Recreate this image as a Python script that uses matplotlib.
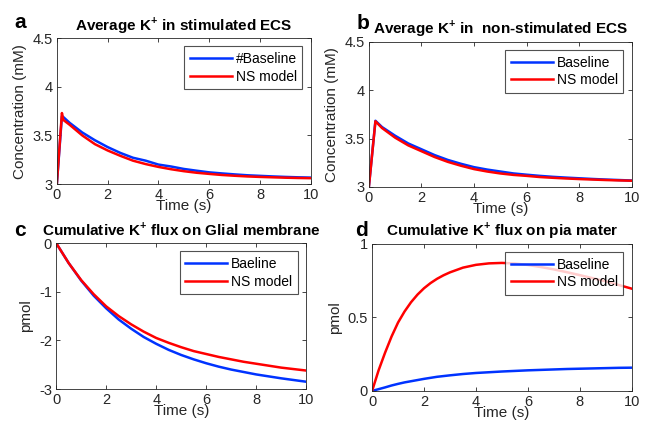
import matplotlib
matplotlib.use("Agg")
import matplotlib.pyplot as plt

plt.rcParams['font.family'] = ['Liberation Sans', 'DejaVu Sans']
plt.rcParams['mathtext.fontset'] = 'custom'
plt.rcParams['mathtext.rm'] = 'Liberation Sans'
plt.rcParams['mathtext.bf'] = 'Liberation Sans:bold'

# Data
t_a = [0, 0.2, 0.25, 0.5, 1, 1.5, 2, 2.5, 3, 3.5, 4, 4.5, 5, 5.5, 6, 6.5, 7, 7.5, 8, 8.5, 9, 9.5, 10]
a_base = [3.00, 3.70, 3.69, 3.63, 3.53, 3.45, 3.38, 3.32, 3.27, 3.24, 3.20, 3.18, 3.155, 3.137,
          3.12, 3.109, 3.099, 3.09, 3.084, 3.078, 3.073, 3.069, 3.066]
a_ns = [3.00, 3.73, 3.66, 3.61, 3.50, 3.41, 3.345, 3.29, 3.24, 3.205, 3.176, 3.152, 3.132, 3.116,
        3.104, 3.093, 3.085, 3.078, 3.073, 3.069, 3.065, 3.062, 3.060]

t_b = [0, 0.25, 0.5, 1, 1.5, 2, 2.5, 3, 3.5, 4, 4.5, 5, 5.5, 6, 6.5, 7, 7.5, 8, 8.5, 9, 9.5, 10]
b_base = [3.00, 3.685, 3.62, 3.53, 3.45, 3.39, 3.33, 3.28, 3.24, 3.205, 3.18, 3.16, 3.14, 3.127,
          3.115, 3.105, 3.097, 3.09, 3.083, 3.077, 3.072, 3.067]
b_ns = [3.00, 3.68, 3.61, 3.51, 3.43, 3.37, 3.31, 3.26, 3.22, 3.185, 3.16, 3.14, 3.125, 3.115,
        3.103, 3.095, 3.088, 3.082, 3.077, 3.072, 3.068, 3.065]

t_c = [0, 0.5, 1, 1.5, 2, 2.5, 3, 3.5, 4, 4.5, 5, 5.5, 6, 6.5, 7, 7.5, 8, 8.5, 9, 9.5, 10]
c_base = [0, -0.41, -0.77, -1.08, -1.34, -1.57, -1.76, -1.93, -2.07, -2.195, -2.30, -2.39,
          -2.47, -2.54, -2.60, -2.65, -2.70, -2.74, -2.78, -2.815, -2.85]
c_ns = [0, -0.41, -0.76, -1.05, -1.30, -1.50, -1.67, -1.82, -1.95, -2.05, -2.14, -2.22,
        -2.28, -2.34, -2.39, -2.44, -2.48, -2.52, -2.56, -2.59, -2.62]

t_d = [0, 0.25, 0.5, 0.75, 1, 1.25, 1.5, 1.75, 2, 2.25, 2.5, 2.75, 3, 3.5, 4, 4.5, 5, 5.5,
       6, 6.5, 7, 7.5, 8, 8.5, 9, 9.5, 10]
d_base = [0, 0.012, 0.024, 0.037, 0.048, 0.058, 0.066, 0.074, 0.082, 0.089, 0.096, 0.101,
          0.106, 0.115, 0.122, 0.127, 0.132, 0.136, 0.14, 0.143, 0.146, 0.149, 0.151, 0.153,
          0.155, 0.157, 0.158]
d_ns = [0, 0.14, 0.26, 0.37, 0.465, 0.54, 0.603, 0.655, 0.698, 0.733, 0.762, 0.786, 0.806,
        0.838, 0.857, 0.867, 0.87, 0.866, 0.856, 0.842, 0.826, 0.807, 0.787, 0.766, 0.745,
        0.72, 0.695]

panels = [
    dict(pos=[0.088, 0.566, 0.393, 0.344], t=t_a, y1=a_base, y2=a_ns, lab1='#Baseline',
         title=r'Average K$^{\mathbf{+}}$ in stimulated ECS', ylabel='Concentration (mM)',
         ylim=(3, 4.5), yticks=[3, 3.5, 4, 4.5], yticklabels=['3', '3.5', '4', '4.5'],
         letter='a', lx=0.022, ly=0.97),
    dict(pos=[0.571, 0.559, 0.407, 0.342], t=t_b, y1=b_base, y2=b_ns, lab1='Baseline',
         title=r'Average K$^{\mathbf{+}}$ in  non-stimulated ECS', ylabel='Concentration (mM)',
         ylim=(3, 4.5), yticks=[3, 3.5, 4, 4.5], yticklabels=['3', '3.5', '4', '4.5'],
         letter='b', lx=0.552, ly=0.966),
    dict(pos=[0.087, 0.0825, 0.387, 0.344], t=t_c, y1=c_base, y2=c_ns, lab1='Baeline',
         title=r'Cumulative K$^{\mathbf{+}}$ flux on Glial membrane', ylabel='pmol',
         ylim=(-3, 0), yticks=[-3, -2, -1, 0], yticklabels=['-3', '-2', '-1', '0'],
         letter='c', lx=0.022, ly=0.478),
    dict(pos=[0.576, 0.078, 0.402, 0.347], t=t_d, y1=d_base, y2=d_ns, lab1='Baseline',
         title=r'Cumulative K$^{\mathbf{+}}$ flux on pia mater', ylabel='pmol',
         ylim=(0, 1), yticks=[0, 0.5, 1], yticklabels=['0', '0.5', '1'],
         letter='d', lx=0.550, ly=0.478),
]

fig = plt.figure(figsize=(6.46, 4.24), dpi=100)
gray = '#262626'

for p in panels:
    ax = fig.add_axes(p['pos'])
    ax.plot(p['t'], p['y1'], color='#0033ff', lw=1.8, label=p['lab1'])
    ax.plot(p['t'], p['y2'], color='#ff0000', lw=1.8, label='NS model')
    ax.set_xlim(0, 10)
    ax.set_ylim(*p['ylim'])
    ax.set_xticks([0, 2, 4, 6, 8, 10])
    ax.set_yticks(p['yticks'])
    ax.set_yticklabels(p['yticklabels'])
    ax.tick_params(direction='in', top=True, right=True, labelsize=10.5,
                   colors=gray, length=3, width=0.6, pad=3)
    for s in ax.spines.values():
        s.set_color(gray)
        s.set_linewidth(0.6)
    ax.set_xlabel('Time (s)', fontsize=11, color=gray, labelpad=-2.5)
    ax.set_ylabel(p['ylabel'], fontsize=11, color=gray, labelpad=4)
    ax.set_title(p['title'], fontsize=11, fontweight='bold', pad=6)
    leg = ax.legend(loc='upper right', fontsize=10, frameon=True, fancybox=False,
                    handlelength=3.0, borderpad=0.4, labelspacing=0.25, handletextpad=0.3,
                    borderaxespad=0.6)
    leg.get_frame().set_edgecolor(gray)
    leg.get_frame().set_linewidth(0.8)
    fig.text(p['lx'], p['ly'], p['letter'], fontsize=15, fontweight='bold', va='top')

fig.savefig('out.png', dpi=100)
